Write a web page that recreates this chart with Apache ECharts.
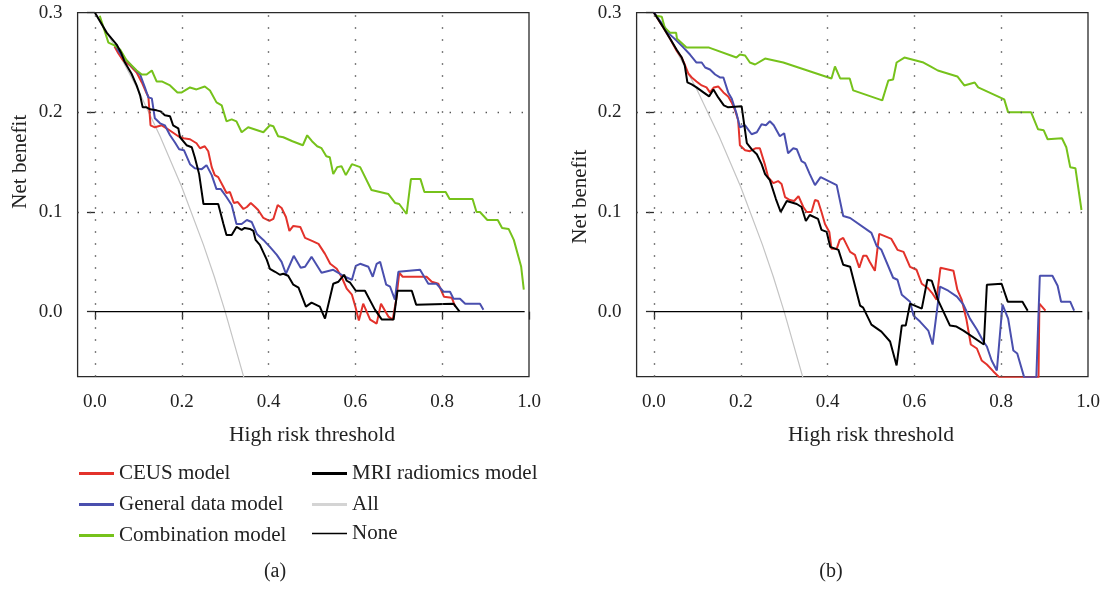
<!DOCTYPE html>
<html>
<head>
<meta charset="utf-8">
<script src="https://cdn.jsdelivr.net/npm/echarts@6/dist/echarts.min.js"></script>
<style>
html,body{margin:0;padding:0;background:#fff;}
#chart{width:1104px;height:589px;}
</style>
</head>
<body>
<div id="chart"></div>
<script>
// ---------- data ----------
const seriesNames = ['CEUS model', 'General data model', 'Combination model', 'MRI radiomics model', 'All', 'None'];
const panelCaptions = ['(a)', '(b)'];
const xTitle = 'High risk threshold';
const yTitle = 'Net benefit';
const xTicks = [0.0, 0.2, 0.4, 0.6, 0.8, 1.0];
const yTicks = [0.0, 0.1, 0.2, 0.3];
const xGridValues = [0.0, 0.2, 0.4, 0.6, 0.8];
const yGridValues = [0.1, 0.2];

// Panel (a)
const ceusA = [[0.045,0.266],[0.054,0.259],[0.065,0.252],[0.081,0.247],[0.096,0.240],[0.108,0.230],[0.118,0.220],[0.123,0.216],[0.128,0.187],[0.138,0.185],[0.154,0.187],[0.165,0.184],[0.192,0.176],[0.204,0.174],[0.219,0.173],[0.234,0.169],[0.242,0.164],[0.253,0.166],[0.261,0.161],[0.269,0.145],[0.276,0.137],[0.284,0.135],[0.296,0.125],[0.303,0.119],[0.311,0.120],[0.320,0.109],[0.329,0.110],[0.342,0.103],[0.350,0.105],[0.359,0.109],[0.369,0.105],[0.376,0.102],[0.388,0.094],[0.402,0.091],[0.411,0.093],[0.421,0.107],[0.430,0.104],[0.440,0.095],[0.448,0.081],[0.457,0.086],[0.473,0.085],[0.484,0.074],[0.500,0.071],[0.515,0.068],[0.530,0.058],[0.542,0.048],[0.557,0.043],[0.568,0.035],[0.580,0.023],[0.592,0.017],[0.600,0.005],[0.608,-0.009],[0.618,0.008],[0.634,-0.008],[0.649,-0.012],[0.659,0.008],[0.676,-0.005],[0.686,-0.008],[0.694,0.012],[0.701,0.039],[0.709,0.035],[0.764,0.035],[0.776,0.030],[0.791,0.028],[0.804,0.015],[0.822,0.014],[0.830,0.005]];
const generalA = [[0.045,0.268],[0.061,0.257],[0.073,0.252],[0.088,0.245],[0.104,0.238],[0.115,0.225],[0.123,0.215],[0.131,0.214],[0.138,0.194],[0.150,0.189],[0.161,0.187],[0.173,0.177],[0.184,0.170],[0.194,0.163],[0.205,0.162],[0.219,0.148],[0.230,0.144],[0.246,0.143],[0.257,0.147],[0.269,0.137],[0.280,0.123],[0.290,0.123],[0.303,0.115],[0.315,0.107],[0.326,0.088],[0.338,0.088],[0.350,0.092],[0.361,0.090],[0.373,0.078],[0.388,0.072],[0.403,0.065],[0.419,0.057],[0.430,0.050],[0.440,0.038],[0.458,0.056],[0.474,0.044],[0.484,0.045],[0.499,0.055],[0.522,0.039],[0.549,0.042],[0.576,0.035],[0.592,0.032],[0.601,0.046],[0.611,0.048],[0.630,0.045],[0.640,0.035],[0.649,0.048],[0.657,0.050],[0.671,0.027],[0.680,0.025],[0.691,0.012],[0.699,0.040],[0.749,0.042],[0.768,0.028],[0.787,0.028],[0.803,0.020],[0.818,0.020],[0.826,0.013],[0.841,0.013],[0.853,0.008],[0.887,0.008],[0.895,0.002]];
const comboA = [[0.011,0.297],[0.031,0.270],[0.046,0.267],[0.058,0.263],[0.073,0.252],[0.096,0.242],[0.108,0.238],[0.119,0.238],[0.131,0.242],[0.142,0.231],[0.154,0.231],[0.173,0.227],[0.190,0.220],[0.200,0.220],[0.219,0.225],[0.234,0.223],[0.253,0.226],[0.265,0.222],[0.280,0.210],[0.292,0.207],[0.303,0.191],[0.315,0.193],[0.326,0.191],[0.338,0.180],[0.353,0.185],[0.388,0.180],[0.403,0.187],[0.411,0.186],[0.422,0.176],[0.434,0.175],[0.455,0.171],[0.479,0.167],[0.489,0.177],[0.500,0.171],[0.512,0.166],[0.522,0.164],[0.533,0.156],[0.541,0.155],[0.549,0.138],[0.558,0.145],[0.568,0.146],[0.578,0.137],[0.592,0.148],[0.611,0.145],[0.637,0.122],[0.676,0.118],[0.692,0.109],[0.701,0.108],[0.718,0.098],[0.728,0.133],[0.750,0.133],[0.759,0.120],[0.808,0.120],[0.817,0.113],[0.870,0.113],[0.879,0.100],[0.887,0.100],[0.904,0.092],[0.928,0.092],[0.938,0.084],[0.953,0.083],[0.965,0.072],[0.982,0.045],[0.988,0.022]];
const mriA = [[0.000,0.300],[0.027,0.280],[0.050,0.268],[0.061,0.259],[0.069,0.250],[0.084,0.239],[0.096,0.227],[0.104,0.217],[0.110,0.205],[0.119,0.205],[0.127,0.203],[0.142,0.202],[0.151,0.201],[0.161,0.197],[0.173,0.196],[0.180,0.187],[0.192,0.184],[0.196,0.175],[0.211,0.167],[0.223,0.165],[0.230,0.155],[0.234,0.155],[0.240,0.138],[0.250,0.108],[0.284,0.108],[0.296,0.088],[0.303,0.077],[0.315,0.077],[0.326,0.085],[0.338,0.082],[0.345,0.084],[0.357,0.083],[0.365,0.081],[0.370,0.072],[0.380,0.067],[0.396,0.052],[0.403,0.043],[0.415,0.040],[0.426,0.037],[0.434,0.038],[0.445,0.036],[0.457,0.027],[0.469,0.024],[0.486,0.005],[0.499,0.009],[0.518,0.005],[0.530,-0.007],[0.549,0.028],[0.561,0.030],[0.574,0.037],[0.580,0.031],[0.588,0.029],[0.601,0.021],[0.622,0.021],[0.645,0.002],[0.661,-0.008],[0.688,-0.008],[0.697,0.021],[0.730,0.021],[0.740,0.007],[0.826,0.008],[0.840,0.000]];
const allA = [[0.000,0.300],[0.050,0.263],[0.100,0.222],[0.150,0.176],[0.200,0.125],[0.250,0.067],[0.275,0.035],[0.300,0.000],[0.343,-0.066]];
const noneA = [[0.000,0.000],[0.990,0.000]];

// Panel (b)
const ceusB = [[0.000,0.300],[0.022,0.285],[0.037,0.274],[0.052,0.262],[0.064,0.255],[0.071,0.248],[0.079,0.239],[0.087,0.235],[0.098,0.231],[0.110,0.227],[0.121,0.225],[0.129,0.220],[0.138,0.225],[0.148,0.226],[0.160,0.220],[0.171,0.216],[0.179,0.210],[0.187,0.202],[0.194,0.192],[0.198,0.167],[0.210,0.162],[0.221,0.161],[0.235,0.164],[0.244,0.164],[0.256,0.147],[0.263,0.135],[0.275,0.129],[0.286,0.131],[0.294,0.128],[0.302,0.115],[0.313,0.112],[0.323,0.111],[0.333,0.116],[0.344,0.105],[0.352,0.100],[0.363,0.100],[0.371,0.112],[0.378,0.111],[0.386,0.100],[0.394,0.088],[0.404,0.080],[0.409,0.063],[0.421,0.063],[0.428,0.072],[0.436,0.074],[0.452,0.060],[0.463,0.057],[0.473,0.044],[0.482,0.056],[0.490,0.056],[0.497,0.050],[0.509,0.041],[0.519,0.078],[0.536,0.075],[0.547,0.073],[0.561,0.062],[0.575,0.060],[0.590,0.045],[0.605,0.042],[0.617,0.028],[0.630,0.024],[0.642,0.018],[0.651,0.012],[0.660,0.044],[0.690,0.041],[0.699,0.022],[0.709,0.012],[0.720,-0.008],[0.730,-0.033],[0.744,-0.037],[0.755,-0.049],[0.767,-0.053],[0.782,-0.060],[0.796,-0.066],[0.886,-0.066],[0.888,0.008],[0.902,0.001]];
const generalB = [[0.000,0.300],[0.037,0.278],[0.052,0.272],[0.068,0.265],[0.083,0.258],[0.098,0.250],[0.110,0.250],[0.118,0.245],[0.129,0.243],[0.141,0.238],[0.152,0.235],[0.160,0.235],[0.171,0.220],[0.179,0.214],[0.190,0.199],[0.198,0.185],[0.210,0.187],[0.225,0.178],[0.237,0.180],[0.248,0.188],[0.258,0.187],[0.267,0.191],[0.276,0.187],[0.290,0.176],[0.300,0.179],[0.309,0.159],[0.321,0.164],[0.329,0.163],[0.340,0.151],[0.348,0.149],[0.359,0.138],[0.371,0.127],[0.384,0.135],[0.421,0.127],[0.436,0.096],[0.452,0.094],[0.501,0.079],[0.513,0.066],[0.524,0.062],[0.551,0.034],[0.561,0.032],[0.571,0.017],[0.590,0.010],[0.598,-0.004],[0.613,-0.010],[0.632,-0.019],[0.642,-0.033],[0.659,0.025],[0.678,0.021],[0.698,0.015],[0.713,0.007],[0.728,-0.007],[0.744,-0.018],[0.759,-0.030],[0.767,-0.035],[0.778,-0.049],[0.790,-0.059],[0.803,0.007],[0.816,-0.007],[0.828,-0.039],[0.837,-0.042],[0.853,-0.066],[0.881,-0.066],[0.889,0.036],[0.918,0.036],[0.930,0.026],[0.938,0.010],[0.959,0.010],[0.968,0.001]];
const comboB = [[0.005,0.297],[0.018,0.296],[0.025,0.285],[0.037,0.280],[0.051,0.280],[0.053,0.274],[0.075,0.265],[0.127,0.265],[0.190,0.255],[0.198,0.258],[0.210,0.257],[0.221,0.250],[0.233,0.248],[0.256,0.254],[0.298,0.250],[0.409,0.234],[0.417,0.246],[0.429,0.234],[0.451,0.234],[0.459,0.222],[0.526,0.212],[0.540,0.232],[0.551,0.233],[0.559,0.250],[0.577,0.255],[0.621,0.250],[0.638,0.246],[0.654,0.242],[0.699,0.236],[0.715,0.227],[0.739,0.230],[0.747,0.225],[0.792,0.216],[0.807,0.213],[0.816,0.200],[0.869,0.200],[0.885,0.183],[0.898,0.182],[0.907,0.173],[0.940,0.174],[0.950,0.165],[0.959,0.145],[0.971,0.144],[0.985,0.102]];
const mriB = [[0.000,0.300],[0.022,0.285],[0.037,0.274],[0.052,0.263],[0.064,0.255],[0.071,0.247],[0.077,0.230],[0.087,0.228],[0.098,0.225],[0.114,0.220],[0.127,0.216],[0.137,0.223],[0.148,0.215],[0.161,0.207],[0.171,0.205],[0.202,0.206],[0.214,0.169],[0.225,0.163],[0.237,0.158],[0.248,0.148],[0.256,0.138],[0.267,0.132],[0.281,0.113],[0.292,0.100],[0.306,0.111],[0.329,0.108],[0.340,0.105],[0.350,0.091],[0.359,0.097],[0.378,0.093],[0.386,0.082],[0.398,0.080],[0.406,0.065],[0.425,0.062],[0.436,0.047],[0.452,0.045],[0.475,0.006],[0.482,0.004],[0.501,-0.013],[0.524,-0.020],[0.544,-0.030],[0.559,-0.054],[0.571,-0.014],[0.580,-0.014],[0.590,0.008],[0.617,0.003],[0.630,0.032],[0.640,0.031],[0.655,0.011],[0.682,-0.014],[0.697,-0.015],[0.713,-0.019],[0.760,-0.033],[0.767,0.027],[0.801,0.028],[0.815,0.010],[0.849,0.010],[0.861,0.001]];
const allB = [[0.000,0.300],[0.050,0.263],[0.100,0.222],[0.150,0.176],[0.200,0.125],[0.250,0.067],[0.275,0.035],[0.300,0.000],[0.343,-0.066]];
const noneB = [[0.000,0.000],[0.987,0.000]];

// ---------- styling ----------
const FONT = 'Liberation Serif';
const TXT = '#222';
const seriesStyle = {
  'CEUS model':          {color: '#e3322b', width: 2, legend: '#e3322b'},
  'General data model':  {color: '#4a4fae', width: 2, legend: '#4a4fae'},
  'Combination model':   {color: '#76c21b', width: 2, legend: '#76c21b'},
  'MRI radiomics model': {color: '#000000', width: 2, legend: '#000000'},
  'All':                 {color: '#c4c4c4', width: 1.2, legend: '#d4d4d4'},
  'None':                {color: '#000000', width: 1.3, legend: '#000000'}
};
const panels = [
  {data: [ceusA, generalA, comboA, mriA, allA, noneA], left: 77.6},
  {data: [ceusB, generalB, comboB, mriB, allB, noneB], left: 636.6}
];
const X_MIN = -0.04, X_MAX = 1.0, Y_MIN = -0.0653, Y_MAX = 0.3;
const GRID_TOP = 12.7, GRID_W = 451.4, GRID_H = 364;

const grids = [], xAxes = [], yAxes = [], series = [], graphics = [];
const fmt = v => v.toFixed(1);

panels.forEach((p, i) => {
  grids.push({left: p.left, top: GRID_TOP, width: GRID_W, height: GRID_H,
    show: true, borderColor: '#2a2a2a', borderWidth: 1.3, backgroundColor: 'transparent'});
  xAxes.push({type: 'value', gridIndex: i, min: X_MIN, max: X_MAX,
    axisLine: {show: false}, splitLine: {show: false},
    axisTick: {show: true, customValues: xTicks, length: 8, lineStyle: {color: '#2a2a2a', width: 1.3}},
    axisLabel: {customValues: xTicks, formatter: fmt, margin: 16, fontFamily: FONT, fontSize: 19, color: TXT}});
  yAxes.push({type: 'value', gridIndex: i, min: Y_MIN, max: Y_MAX,
    axisLine: {show: false}, splitLine: {show: false},
    axisTick: {show: true, customValues: yTicks, length: 8, lineStyle: {color: '#2a2a2a', width: 1.3}},
    axisLabel: {customValues: yTicks, formatter: fmt, margin: 15, fontFamily: FONT, fontSize: 19, color: TXT}});
  seriesNames.forEach((name, k) => {
    const st = seriesStyle[name];
    const s = {
      name: name, type: 'line', xAxisIndex: i, yAxisIndex: i,
      data: p.data[k], symbol: 'none', showSymbol: false, clip: true,
      color: st.color,
      lineStyle: {color: st.color, width: st.width},
      z: name === 'All' ? 2 : (name === 'None' ? 3 : 4),
      emphasis: {disabled: true}
    };
    if (name === 'All') {
      s.markLine = {
        silent: true, symbol: 'none', label: {show: false}, animation: false,
        lineStyle: {type: [1.4, 10.6], color: '#555', width: 1.4},
        data: xGridValues.map(v => ({xAxis: v})).concat(yGridValues.map(v => ({yAxis: v})))
      };
      s.z = 1;
    }
    series.push(s);
  });
  // axis titles centred on the 0..1 data span
  const x0 = p.left - X_MIN / (X_MAX - X_MIN) * GRID_W;
  const x1 = p.left + GRID_W;
  graphics.push({type: 'text', x: (x0 + x1) / 2, y: 435,
    style: {text: xTitle, align: 'center', verticalAlign: 'middle', font: '21.5px "' + FONT + '"', fill: TXT}});
  graphics.push({type: 'text', x: i === 0 ? 20 : 580, y: i === 0 ? 161.7 : 196.7, rotation: Math.PI / 2,
    style: {text: yTitle, align: 'center', verticalAlign: 'middle', font: '21px "' + FONT + '"', fill: TXT}});
  graphics.push({type: 'text', x: i === 0 ? 275 : 831, y: 572,
    style: {text: panelCaptions[i], align: 'center', verticalAlign: 'middle', font: '20px "' + FONT + '"', fill: TXT}});
});

const legendBase = (left, top, names, h) => ({
  left: left, top: top, orient: 'vertical', icon: 'rect',
  itemWidth: 35, itemHeight: h, itemGap: 10, selectedMode: false,
  itemStyle: {borderWidth: 0},
  textStyle: {fontFamily: FONT, fontSize: 21, color: TXT},
  data: names.map(n => ({name: n, itemStyle: {color: seriesStyle[n].legend, borderWidth: 0}}))
});

const chart = echarts.init(document.getElementById('chart'), null, {renderer: 'canvas'});
chart.setOption({
  animation: false,
  backgroundColor: '#ffffff',
  grid: grids, xAxis: xAxes, yAxis: yAxes, series: series,
  legend: [
    legendBase(74, 458, seriesNames.slice(0, 3), 3),
    legendBase(307, 458, seriesNames.slice(3, 5), 3),
    legendBase(307, 518, seriesNames.slice(5, 6), 1.5)
  ],
  graphic: graphics
});
</script>
</body>
</html>
